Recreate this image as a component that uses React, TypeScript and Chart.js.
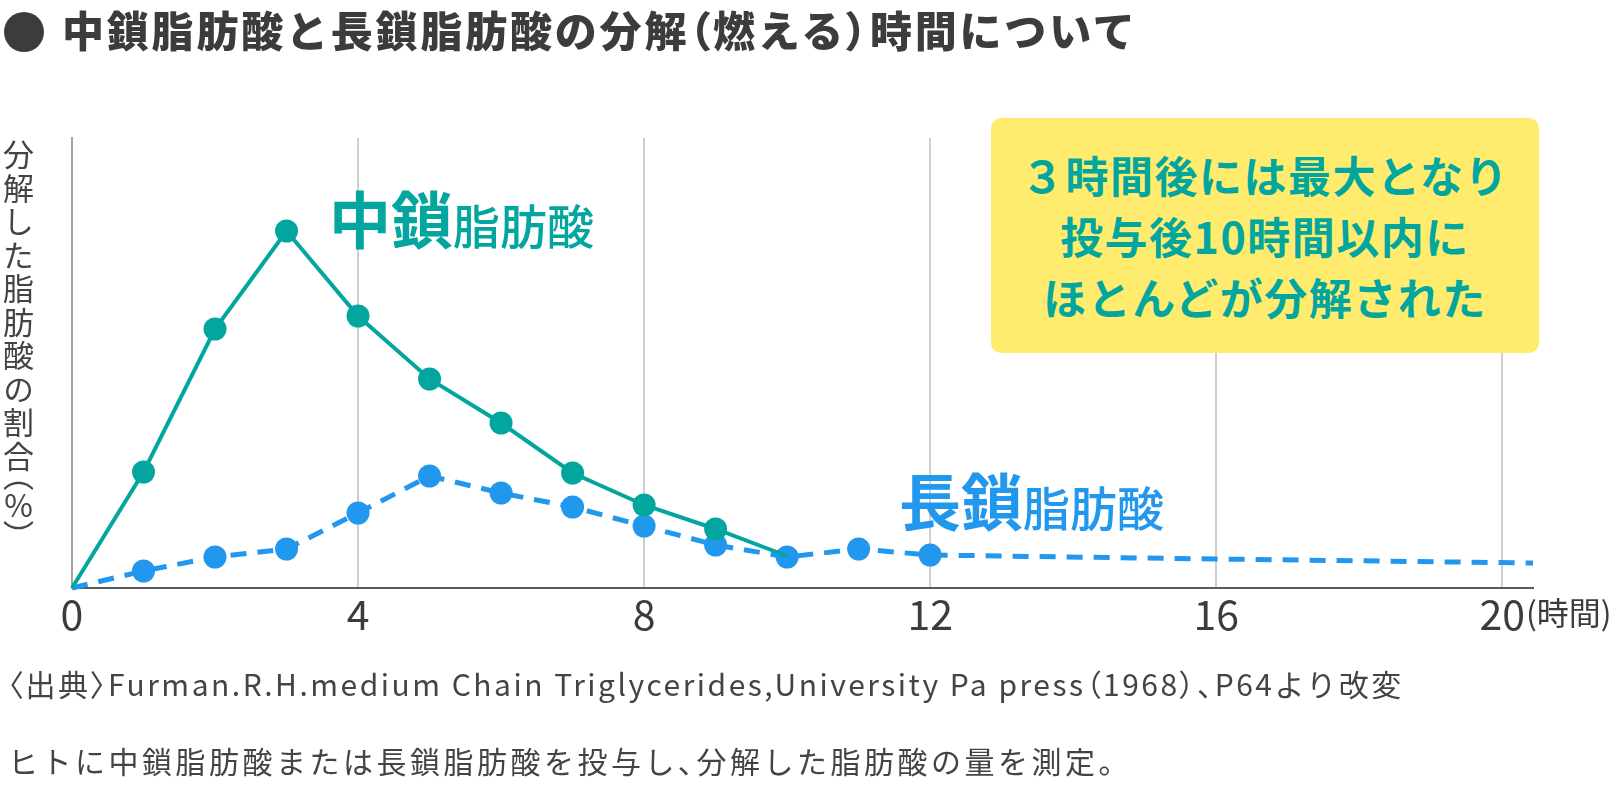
import React, { useEffect, useRef } from "react";
import { Chart, registerables } from "chart.js";

Chart.register(...registerables);

// ---- data ----
const xTickValues = [0, 4, 8, 12, 16, 20];
const xTickLabels = ["0", "4", "8", "12", "16", "20"];
const xUnitLabel = "(時間)";
const X_MAX = 20.43;
const Y_MAX = 45;

const mctHours = [0, 1, 2, 3, 4, 5, 6, 7, 8, 9, 10];
const mctValues = [0, 11.6, 25.9, 35.7, 27.2, 20.9, 16.5, 11.5, 8.3, 5.9, 3.2];

const lctHours = [0, 1, 2, 3, 4, 5, 6, 7, 8, 9, 10, 11, 12, 16, 20.43];
const lctValues = [0, 1.7, 3.1, 3.9, 7.5, 11.2, 9.5, 8.1, 6.2, 4.3, 3.1, 3.9, 3.3, 2.9, 2.5];

const titleText = "中鎖脂肪酸と長鎖脂肪酸の分解（燃える）時間について";
const yTitleMain = "分解した脂肪酸の割合";
const yTitleUnit = "（%）";
const mctLabelBig = "中鎖";
const lctLabelBig = "長鎖";
const labelSmall = "脂肪酸";
const noteLines = [
  "３時間後には最大となり",
  "投与後10時間以内に",
  "ほとんどが分解された",
];
const sourceLine1 =
  "〈出典〉Furman.R.H.medium Chain Triglycerides,University Pa press（1968）、P64より改変";
const sourceLine2 = "ヒトに中鎖脂肪酸または長鎖脂肪酸を投与し、分解した脂肪酸の量を測定。";

const TEAL = "#03A69F";
const BLUE = "#2197EE";
const TEXT = "#3c3c3c";
const FONT = '"Noto Sans CJK JP", "Noto Sans", sans-serif';

const unitLabelPlugin = {
  id: "unitLabel",
  afterDraw(chart: any) {
    const { ctx } = chart;
    const xs = chart.scales.x;
    const px = xs.getPixelForValue(20);
    ctx.save();
    ctx.font = `41px ${FONT}`;
    const w = ctx.measureText("20").width;
    ctx.font = `32px ${FONT}`;
    ctx.fillStyle = TEXT;
    ctx.textAlign = "left";
    ctx.textBaseline = "middle";
    ctx.fillText(xUnitLabel, px + w / 2 + 1, chart.chartArea.bottom + 25);
    ctx.restore();
  },
};

// render a string, giving bracket characters proportional (narrow) widths
function Palt({ text }: { text: string }) {
  const parts = text.split(/([（）〈〉、])/).filter((p) => p !== "");
  return (
    <>
      {parts.map((p, i) =>
        /^[（）〈〉、]$/.test(p) ? (
          <span key={i} style={{ fontFeatureSettings: '"palt"' }}>
            {p}
          </span>
        ) : (
          <span key={i}>{p}</span>
        )
      )}
    </>
  );
}

function ChartCanvas() {
  const ref = useRef<HTMLCanvasElement | null>(null);
  useEffect(() => {
    if (!ref.current) return;
    const chart = new Chart(ref.current, {
      type: "line",
      data: {
        datasets: [
          {
            label: "中鎖脂肪酸",
            data: mctHours.map((h, i) => ({ x: h, y: mctValues[i] })),
            borderColor: TEAL,
            backgroundColor: TEAL,
            borderWidth: 4,
            pointRadius: (c: any) => (c.raw && c.raw.x >= 1 && c.raw.x <= 9 ? 11.5 : 0),
            pointBorderWidth: 0,
            pointHoverRadius: 0,
            tension: 0,
            clip: false,
          },
          {
            label: "長鎖脂肪酸",
            data: lctHours.map((h, i) => ({ x: h, y: lctValues[i] })),
            borderColor: BLUE,
            backgroundColor: BLUE,
            borderWidth: 5,
            borderDash: [16, 11],
            pointRadius: (c: any) => (c.raw && c.raw.x >= 1 && c.raw.x <= 12 ? 11.5 : 0),
            pointBorderWidth: 0,
            pointHoverRadius: 0,
            tension: 0,
            clip: false,
          },
        ],
      },
      options: {
        animation: false,
        responsive: false,
        devicePixelRatio: 1,
        events: [],
        layout: { padding: { left: 72, top: 138, right: 87, bottom: 0 } },
        plugins: { legend: { display: false }, tooltip: { enabled: false } },
        scales: {
          x: {
            type: "linear",
            min: 0,
            max: X_MAX,
            afterFit: (s: any) => {
              s.height = 801 - 588;
            },
            afterBuildTicks: (s: any) => {
              s.ticks = xTickValues.map((v) => ({ value: v }));
            },
            ticks: {
              autoSkip: false,
              maxRotation: 0,
              padding: 2,
              color: TEXT,
              font: { family: FONT, size: 41 },
              callback: (v: any) => {
                const i = xTickValues.indexOf(Number(v));
                return i >= 0 ? xTickLabels[i] : "";
              },
            },
            grid: {
              drawTicks: false,
              color: (c: any) => (c.tick && c.tick.value === 0 ? "rgba(0,0,0,0)" : "#cfcfcf"),
              lineWidth: 2,
            },
            border: { display: true, color: "#5a5a5a", width: 2 },
          },
          y: {
            type: "linear",
            min: 0,
            max: Y_MAX,
            afterFit: (s: any) => {
              s.width = 0;
            },
            ticks: { display: false },
            grid: { display: false, drawTicks: false },
            border: { display: true, color: "#a3a3a3", width: 2 },
          },
        },
      },
      plugins: [unitLabelPlugin],
    } as any);
    return () => chart.destroy();
  }, []);
  return (
    <canvas
      ref={ref}
      width={1620}
      height={801}
      style={{ position: "absolute", left: 0, top: 0, width: 1620, height: 801 }}
    />
  );
}

function SeriesLabel({ big, color, left, top }: { big: string; color: string; left: number; top: number }) {
  return (
    <div
      style={{
        position: "absolute",
        left,
        top,
        display: "flex",
        alignItems: "baseline",
        color,
        whiteSpace: "nowrap",
      }}
    >
      <span style={{ fontSize: 62, fontWeight: 700, lineHeight: "62px" }}>{big}</span>
      <span style={{ fontSize: 47, fontWeight: 500, lineHeight: "47px" }}>{labelSmall}</span>
    </div>
  );
}

export default function App() {
  return (
    <div
      style={{
        position: "absolute",
        left: 0,
        top: 0,
        width: 1620,
        height: 801,
        background: "#ffffff",
        overflow: "hidden",
        fontFamily: FONT,
      }}
    >
      <ChartCanvas />
      {/* title */}
      <div
        style={{
          position: "absolute",
          left: 4,
          top: 12,
          width: 40,
          height: 40,
          borderRadius: "50%",
          background: TEXT,
        }}
      />
      <div
        style={{
          position: "absolute",
          left: 62,
          top: 8,
          fontSize: 42,
          lineHeight: "42px",
          fontWeight: 900,
          color: TEXT,
          letterSpacing: 2.8,
          whiteSpace: "nowrap",
        }}
      >
        <Palt text={titleText} />
      </div>
      {/* y axis title */}
      <div
        style={{
          position: "absolute",
          left: 1,
          top: 139,
          writingMode: "vertical-rl",
          textOrientation: "upright",
          fontSize: 31,
          lineHeight: "34px",
          letterSpacing: 2.5,
          color: "#444444",
          whiteSpace: "nowrap",
        }}
      >
        {yTitleMain}
        <span style={{ letterSpacing: 0, fontFeatureSettings: '"vpal"' }}>{yTitleUnit}</span>
      </div>
      {/* series labels */}
      <SeriesLabel big={mctLabelBig} color={TEAL} left={329} top={186} />
      <SeriesLabel big={lctLabelBig} color={BLUE} left={899} top={468} />
      {/* note box */}
      <div
        style={{
          position: "absolute",
          left: 991,
          top: 118,
          width: 548,
          height: 235,
          borderRadius: 10,
          background: "#FFEC6E",
          display: "flex",
          flexDirection: "column",
          alignItems: "center",
          justifyContent: "center",
          color: TEAL,
          fontWeight: 700,
          fontSize: 43,
          letterSpacing: 1.5,
          lineHeight: "61px",
        }}
      >
        {noteLines.map((l, i) => (
          <div key={i} style={{ whiteSpace: "nowrap" }}>
            {l}
          </div>
        ))}
      </div>
      {/* source */}
      <div
        style={{
          position: "absolute",
          left: 8,
          top: 645,
          fontSize: 30,
          lineHeight: "77px",
          color: "#444444",
          letterSpacing: 2.5,
          whiteSpace: "nowrap",
        }}
      >
        <div>
          <Palt text={sourceLine1} />
        </div>
        <div style={{ letterSpacing: 3.5 }}>
          <Palt text={sourceLine2} />
        </div>
      </div>
    </div>
  );
}
